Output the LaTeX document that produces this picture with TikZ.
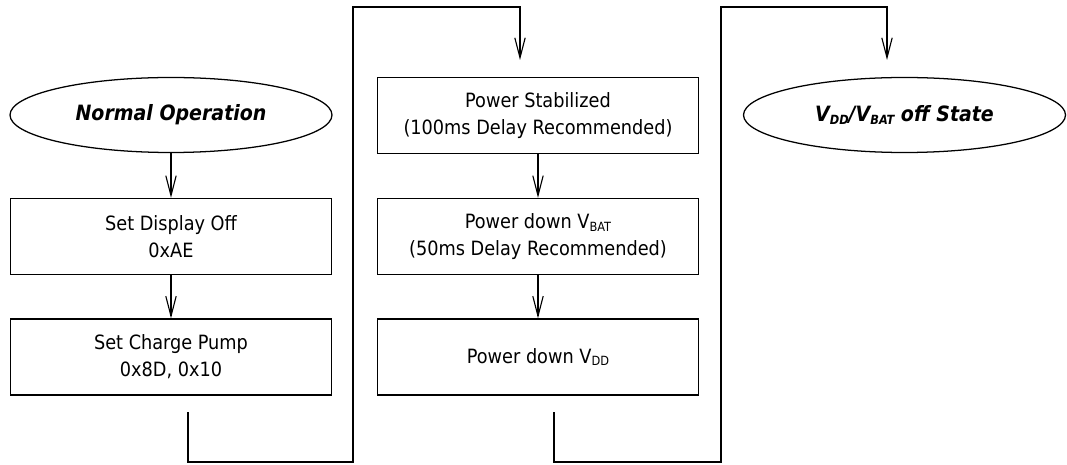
\documentclass[tikz,border=0pt]{standalone}
\usepackage{fontspec}
\setmainfont{DejaVu Sans Condensed}
\usetikzlibrary{shapes.geometric,arrows.meta}
\newcommand{\lowidx}[1]{\raisebox{-0.25ex}{\fontsize{9}{9}\selectfont #1}}
\begin{document}
\begin{tikzpicture}[
  stepbox/.style={draw,line width=0.9pt,minimum width=8.025cm,minimum height=1.9cm,align=center,font=\fontsize{14}{19}\selectfont},
  statenode/.style={draw,ellipse,line width=0.9pt,minimum width=8.05cm,minimum height=1.875cm,font=\fontsize{15}{16}\selectfont\bfseries\itshape},
  flow/.style={line width=1.1pt,-{Straight Barb[length=5mm,width=2.6mm,line width=0.8pt]}},
  wire/.style={line width=1.2pt}]
  \useasboundingbox (0,0) rectangle (26.675,11.6);
  \node[statenode] (normal) at (4.275,8.725) {Normal Operation};
  \node[stepbox] (dispoff) at (4.275,5.6875) {Set Display Off\\0xAE};
  \node[stepbox] (pump) at (4.275,2.675) {Set Charge Pump\\0x8D, 0x10};
  \node[stepbox] (stab) at (13.45,8.7125) {Power Stabilized\\(100ms Delay Recommended)};
  \node[stepbox] (vbatdown) at (13.45,5.6875) {Power down V\lowidx{BAT}\\(50ms Delay Recommended)};
  \node[stepbox] (vdddown) at (13.45,2.675) {Power down V\lowidx{DD}};
  \node[statenode] (offstate) at (22.6125,8.725) {V\lowidx{DD}/V\lowidx{BAT} off State};
  \draw[flow] (normal) -- (dispoff);
  \draw[flow] (dispoff) -- (pump);
  \draw[flow] (stab) -- (vbatdown);
  \draw[flow] (vbatdown) -- (vdddown);
  \coordinate (wireA) at (4.7,1.3);
  \coordinate (wireB) at (13,10.1);
  \draw[wire,flow] (wireA) -- (4.7,0.05) -- (8.825,0.05) -- (8.825,11.425) -- (13,11.425) -- (wireB);
  \coordinate (wireC) at (13.85,1.3);
  \coordinate (wireD) at (22.175,10.1);
  \draw[wire,flow] (wireC) -- (13.85,0.05) -- (18.025,0.05) -- (18.025,11.425) -- (22.175,11.425) -- (wireD);
\end{tikzpicture}
\end{document}
